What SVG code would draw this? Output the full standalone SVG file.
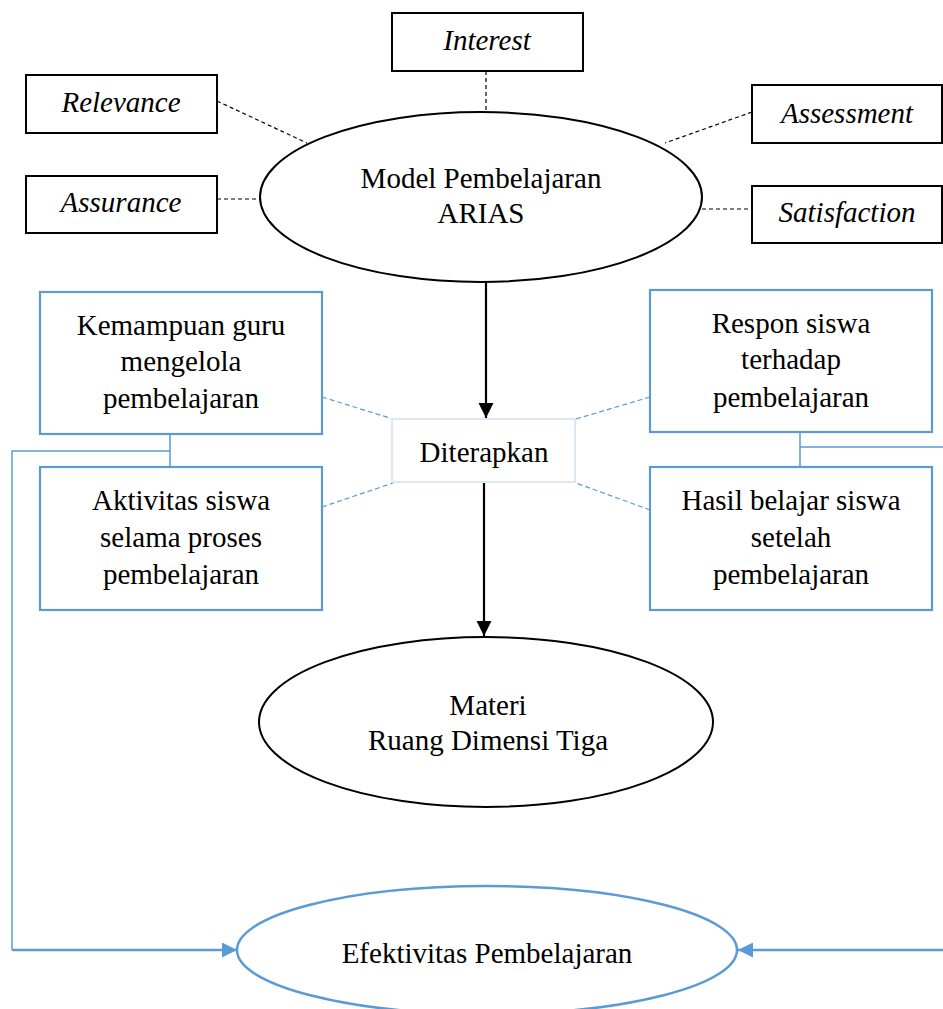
<svg xmlns="http://www.w3.org/2000/svg" width="943" height="1009" viewBox="0 0 943 1009">
<style>
text{font-family:"Liberation Serif","Times New Roman",serif;font-size:29px;fill:#000;text-anchor:middle}
.it{font-style:italic}
.bbox{fill:#fff;stroke:#000;stroke-width:2}
.blbox{fill:#fff;stroke:#5b9bd5;stroke-width:2.2}
.ell{fill:#fff;stroke:#000;stroke-width:2}
.dash{fill:none;stroke:#000;stroke-width:1.2;stroke-dasharray:4 3}
.bdash{fill:none;stroke:#5b9bd5;stroke-width:1.2;stroke-dasharray:5 3}
.arr{fill:none;stroke:#000;stroke-width:2.2}
.bl{fill:none;stroke:#5b9bd5;stroke-width:1.5}
.blth{fill:none;stroke:#5b9bd5;stroke-width:2.5}
</style>
<defs>
<marker id="ah" viewBox="0 0 10 10" refX="10" refY="5" markerWidth="7" markerHeight="7" markerUnits="strokeWidth" orient="auto"><path d="M0,0 L10,5 L0,10 Z" fill="#000"/></marker>
<marker id="bh" viewBox="0 0 10 10" refX="10" refY="5" markerWidth="6.5" markerHeight="6" markerUnits="strokeWidth" orient="auto"><path d="M0,0 L10,5 L0,10 Z" fill="#5b9bd5"/></marker>
</defs>
<g id="connectors">
<line class="dash" x1="486" y1="71" x2="486" y2="112"/>
<line class="dash" x1="217" y1="101" x2="307" y2="143"/>
<line class="dash" x1="217" y1="199" x2="260" y2="199"/>
<line class="dash" x1="752" y1="112" x2="665" y2="143"/>
<line class="dash" x1="702" y1="209" x2="752" y2="209"/>
<line class="arr" x1="486" y1="282" x2="486" y2="418" marker-end="url(#ah)"/>
<line class="arr" x1="484" y1="483" x2="484" y2="636" marker-end="url(#ah)"/>
<line class="bdash" x1="322" y1="397" x2="393" y2="419"/>
<line class="bdash" x1="322" y1="507" x2="393" y2="483"/>
<line class="bdash" x1="650" y1="397" x2="576" y2="419"/>
<line class="bdash" x1="650" y1="510" x2="576" y2="483"/>
<path class="bl" d="M170,434 V467 M170,451 H12 V950"/>
<path class="bl" d="M800,432 V467 M800,447 H945 V950"/>
<line class="blth" x1="12" y1="950" x2="237" y2="950" marker-end="url(#bh)"/>
<line class="blth" x1="945" y1="950" x2="738" y2="950" marker-end="url(#bh)"/>
</g>
<g id="interest"><rect class="bbox" x="392" y="13" width="191" height="58"/><text class="it" x="487" y="50">Interest</text></g>
<g id="relevance"><rect class="bbox" x="26" y="75" width="191" height="58"/><text class="it" x="121" y="112">Relevance</text></g>
<g id="assurance"><rect class="bbox" x="26" y="176" width="191" height="57"/><text class="it" x="121" y="212">Assurance</text></g>
<g id="assessment"><rect class="bbox" x="752" y="85" width="190" height="58"/><text class="it" x="847" y="123">Assessment</text></g>
<g id="satisfaction"><rect class="bbox" x="752" y="186" width="190" height="57"/><text class="it" x="847" y="222">Satisfaction</text></g>
<g id="arias"><ellipse class="ell" cx="481" cy="197" rx="221" ry="85"/><text x="481" y="188">Model Pembelajaran</text><text x="481" y="223">ARIAS</text></g>
<g id="diterapkan"><rect x="392" y="419" width="183" height="63" fill="#fff" stroke="#dae7f4" stroke-width="2"/><text x="484" y="462">Diterapkan</text></g>
<g id="kemampuan"><rect class="blbox" x="40" y="292" width="282" height="142"/><text x="181" y="335">Kemampuan guru</text><text x="181" y="371">mengelola</text><text x="181" y="408">pembelajaran</text></g>
<g id="aktivitas"><rect class="blbox" x="40" y="467" width="282" height="143"/><text x="181" y="510">Aktivitas siswa</text><text x="181" y="547">selama proses</text><text x="181" y="584">pembelajaran</text></g>
<g id="respon"><rect class="blbox" x="650" y="290" width="282" height="142"/><text x="791" y="333">Respon siswa</text><text x="791" y="369">terhadap</text><text x="791" y="407">pembelajaran</text></g>
<g id="hasil"><rect class="blbox" x="650" y="467" width="282" height="143"/><text x="791" y="510">Hasil belajar siswa</text><text x="791" y="547">setelah</text><text x="791" y="584">pembelajaran</text></g>
<g id="materi"><ellipse class="ell" cx="486" cy="722" rx="227" ry="85"/><text x="488" y="715">Materi</text><text x="488" y="750">Ruang Dimensi Tiga</text></g>
<g id="efektivitas"><ellipse cx="487" cy="950" rx="250" ry="64" fill="#fff" stroke="#5b9bd5" stroke-width="2.5"/><text x="487" y="963">Efektivitas Pembelajaran</text></g>
</svg>
